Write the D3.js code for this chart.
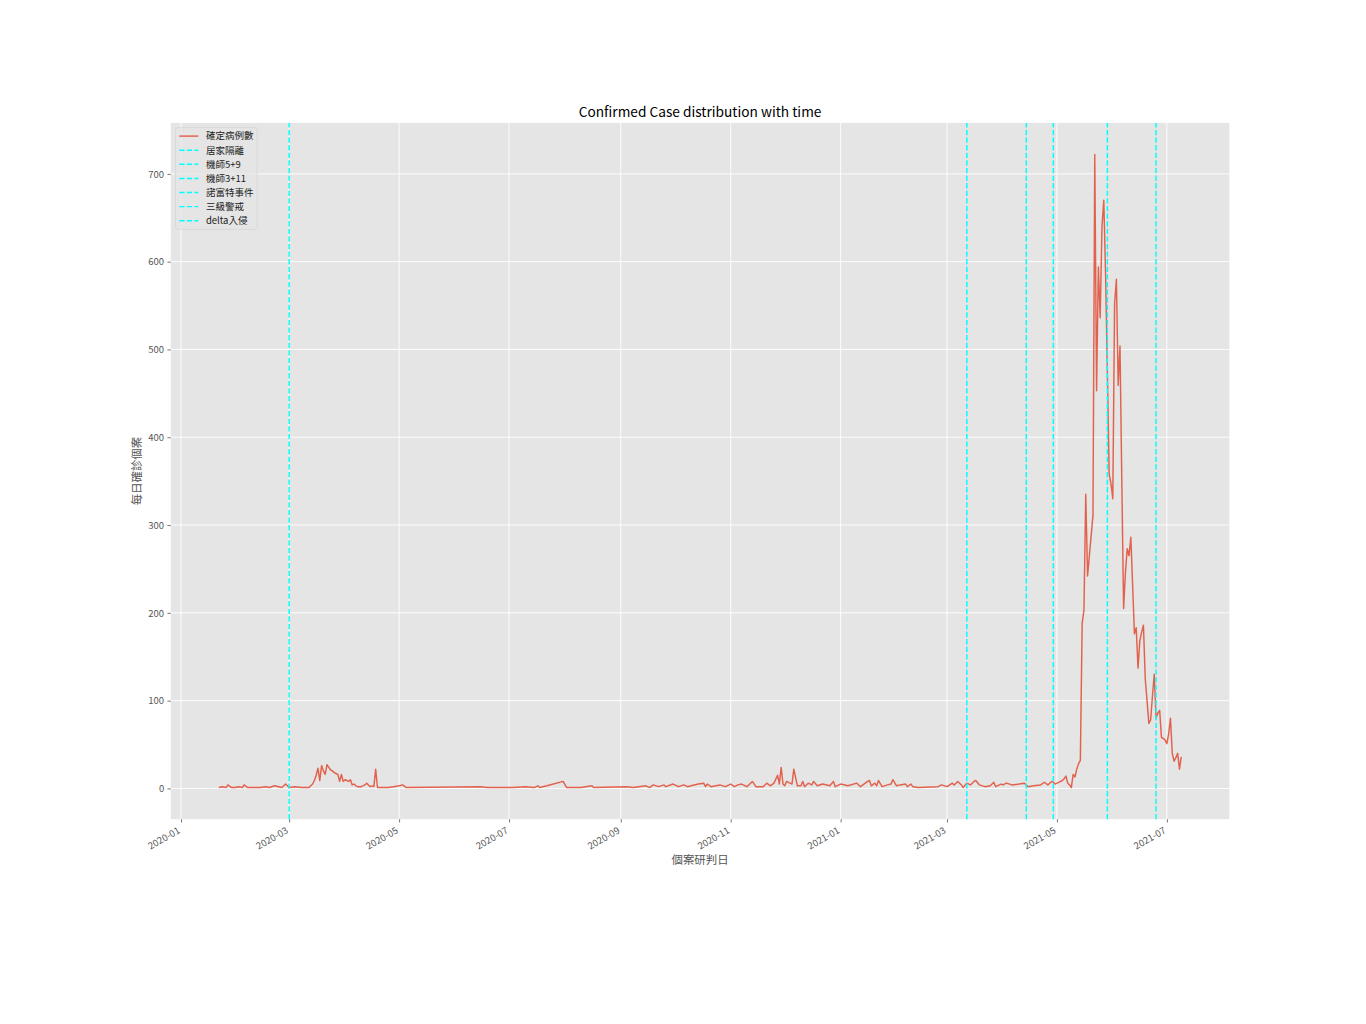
<!DOCTYPE html>
<html><head><meta charset="utf-8">
<script src="https://cdn.jsdelivr.net/npm/d3@7"></script>
<style>
body{margin:0;background:#fff}
svg{display:block}
text{font-family:"Noto Sans CJK TC","Noto Sans CJK SC","Noto Sans",sans-serif}
</style>
</head><body>
<svg id="c" width="1366" height="1024"></svg>
<script>
// ---- data ----
const dates = [
"2020-01-22","2020-01-24","2020-01-26","2020-01-27","2020-01-29","2020-01-31","2020-02-02","2020-02-04","2020-02-05","2020-02-07",
"2020-02-10","2020-02-14","2020-02-17","2020-02-19","2020-02-22","2020-02-26","2020-02-28","2020-03-01","2020-03-04","2020-03-08",
"2020-03-12","2020-03-13","2020-03-14","2020-03-15","2020-03-16","2020-03-17","2020-03-18","2020-03-19","2020-03-20","2020-03-21",
"2020-03-22","2020-03-23","2020-03-24","2020-03-25","2020-03-26","2020-03-27","2020-03-28","2020-03-29","2020-03-30","2020-03-31",
"2020-04-01","2020-04-02","2020-04-03","2020-04-04","2020-04-05","2020-04-06","2020-04-07","2020-04-08","2020-04-10","2020-04-12",
"2020-04-13","2020-04-15","2020-04-16","2020-04-17","2020-04-18","2020-04-19","2020-04-22","2020-04-25","2020-04-28","2020-05-01",
"2020-05-03","2020-05-05","2020-06-15","2020-06-19","2020-07-03","2020-07-10","2020-07-15","2020-07-17","2020-07-18","2020-07-22",
"2020-07-31","2020-08-02","2020-08-10","2020-08-16","2020-08-17","2020-09-04","2020-09-08","2020-09-15","2020-09-17","2020-09-19",
"2020-09-22","2020-09-25","2020-09-26","2020-09-30","2020-10-03","2020-10-06","2020-10-08","2020-10-10","2020-10-14","2020-10-17",
"2020-10-18","2020-10-19","2020-10-21","2020-10-26","2020-10-29","2020-11-01","2020-11-03","2020-11-05","2020-11-07","2020-11-10",
"2020-11-13","2020-11-15","2020-11-19","2020-11-21","2020-11-23","2020-11-25","2020-11-27","2020-11-28","2020-11-29","2020-11-30",
"2020-12-01","2020-12-02","2020-12-05","2020-12-06","2020-12-08","2020-12-10","2020-12-11","2020-12-12","2020-12-14","2020-12-16",
"2020-12-17","2020-12-19","2020-12-22","2020-12-26","2020-12-28","2020-12-29","2021-01-01","2021-01-05","2021-01-10","2021-01-12",
"2021-01-16","2021-01-17","2021-01-18","2021-01-20","2021-01-21","2021-01-22","2021-01-24","2021-01-27","2021-01-29","2021-01-30",
"2021-02-01","2021-02-03","2021-02-06","2021-02-07","2021-02-09","2021-02-10","2021-02-13","2021-02-24","2021-02-26","2021-03-01",
"2021-03-04","2021-03-05","2021-03-07","2021-03-09","2021-03-10","2021-03-12","2021-03-14","2021-03-16","2021-03-17","2021-03-19",
"2021-03-22","2021-03-25","2021-03-27","2021-03-28","2021-03-31","2021-04-01","2021-04-03","2021-04-06","2021-04-10","2021-04-13",
"2021-04-15","2021-04-18","2021-04-22","2021-04-24","2021-04-26","2021-04-28","2021-04-29","2021-04-30","2021-05-01","2021-05-02",
"2021-05-04","2021-05-05","2021-05-06","2021-05-07","2021-05-08","2021-05-09","2021-05-10","2021-05-11","2021-05-12","2021-05-13",
"2021-05-14","2021-05-15","2021-05-16","2021-05-17","2021-05-18","2021-05-19","2021-05-20","2021-05-21","2021-05-22","2021-05-23",
"2021-05-24","2021-05-25","2021-05-26","2021-05-27","2021-05-28","2021-05-29","2021-05-30","2021-05-31","2021-06-01","2021-06-02",
"2021-06-03","2021-06-04","2021-06-05","2021-06-06","2021-06-07","2021-06-08","2021-06-09","2021-06-10","2021-06-11","2021-06-12",
"2021-06-13","2021-06-14","2021-06-15","2021-06-16","2021-06-17","2021-06-18","2021-06-19","2021-06-20","2021-06-21","2021-06-22",
"2021-06-23","2021-06-24","2021-06-25","2021-06-26","2021-06-27","2021-06-28","2021-06-29","2021-06-30","2021-07-01","2021-07-02",
"2021-07-03","2021-07-04","2021-07-05","2021-07-06","2021-07-07","2021-07-08","2021-07-09"
];
const cases = [
1,2,1,4,1,1,2,1,4,1,
1,1,2,1,3,1,5,1,2,1,
1,3,5,9,15,23,9,26,20,16,
27,24,21,20,18,17,16,8,16,8,
10,9,8,10,4,5,3,2,2,4,
6,2,3,2,22,1,1,1,2,3,
4,1,2,1,1,2,1,3,1,3,
8,1,1,3,1,2,1,3,1,4,
2,4,2,5,2,4,2,3,5,6,
2,5,2,4,2,5,2,4,5,2,
8,2,2,6,3,6,15,5,24,5,
3,8,5,22,3,3,8,2,6,4,
8,3,5,3,8,2,5,3,6,2,
8,9,3,6,3,9,2,4,5,10,
3,4,5,2,5,2,1,2,4,2,
6,4,8,4,1,6,4,8,9,4,
2,3,7,2,5,4,6,4,5,6,
2,3,4,7,4,8,7,5,6,7,
9,11,14,6,4,1,16,13,22,28,
32,188,203,335,242,265,288,311,722,453,
594,536,640,670,586,472,358,347,330,552,
580,459,504,350,205,245,273,265,286,232,
176,183,137,168,178,186,125,100,74,78,
105,130,80,86,89,58,57,55,51,62,
80,40,31,35,40,22,36
];
const seriesName = "確定病例數";
const eventNames = ["居家隔離","機師5+9","機師3+11","諾富特事件","三級警戒","delta入侵"];
const eventDates = ["2020-03-01","2021-03-12","2021-04-14","2021-04-29","2021-05-29","2021-06-25"];
const yTicks = [0,100,200,300,400,500,600,700];
const xTickLabels = ["2020-01","2020-03","2020-05","2020-07","2020-09","2020-11","2021-01","2021-03","2021-05","2021-07"];
const titleText = "Confirmed Case distribution with time";
const xLabel = "個案研判日";
const yLabel = "每日確診個案";

// ---- layout ----
const M = {left:170.75, right:1229.4, top:122.9, bottom:819.2};
const svg = d3.select("#c");
const parseDay = d3.utcParse("%Y-%m-%d");
const parseMonth = d3.utcParse("%Y-%m");
const data = dates.map((d,i)=>({date:parseDay(d), value:cases[i]}));

const dExt = d3.extent(data, d=>d.date);
const dSpan = dExt[1]-dExt[0];
const x = d3.scaleUtc()
  .domain([new Date(+dExt[0]-0.05*dSpan), new Date(+dExt[1]+0.05*dSpan)])
  .range([M.left, M.right]);
const vExt = d3.extent(cases);
const vSpan = vExt[1]-vExt[0];
const y = d3.scaleLinear()
  .domain([vExt[0]-0.05*vSpan, vExt[1]+0.05*vSpan])
  .range([M.bottom, M.top]);

const xTicks = xTickLabels.map(parseMonth);

// background
svg.append("rect").attr("x",M.left).attr("y",M.top)
  .attr("width",M.right-M.left).attr("height",M.bottom-M.top).attr("fill","#E5E5E5");

// grid
const grid = svg.append("g");
grid.selectAll("line.gx").data(xTicks).join("line")
  .attr("x1",d=>x(d)).attr("x2",d=>x(d)).attr("y1",M.top).attr("y2",M.bottom)
  .attr("stroke","#fff").attr("stroke-width",0.9);
grid.selectAll("line.gy").data(yTicks).join("line")
  .attr("x1",M.left).attr("x2",M.right).attr("y1",d=>y(d)).attr("y2",d=>y(d))
  .attr("stroke","#fff").attr("stroke-width",0.9);

// line
const line = d3.line().x(d=>x(d.date)).y(d=>y(d.value));
svg.append("path").datum(data).attr("d",line)
  .attr("fill","none").attr("stroke","#E24A33").attr("stroke-width",1.45)
  .attr("stroke-opacity",0.85).attr("stroke-linejoin","round");

// event lines
const evG = svg.append("g");
evG.selectAll("line").data(eventDates.map(parseDay)).join("line")
  .attr("x1",d=>x(d)).attr("x2",d=>x(d)).attr("y1",M.bottom).attr("y2",M.top)
  .attr("stroke","#00FFFF").attr("stroke-width",1.45).attr("stroke-dasharray","5.3,2.3");

// axes
const tickColor = "#555555";
const gx = svg.append("g").attr("transform",`translate(0,${M.bottom})`)
  .call(d3.axisBottom(x).tickValues(xTicks).tickFormat(d3.utcFormat("%Y-%m")).tickSize(3.3).tickPadding(3.3));
gx.select(".domain").remove();
gx.selectAll(".tick line").attr("stroke",tickColor).attr("stroke-width",0.8);
gx.selectAll(".tick text")
  .attr("fill",tickColor).attr("font-size","9.5px")
  .attr("text-anchor","end").attr("x",0).attr("y",0).attr("dy","0.8em")
  .attr("transform","translate(-4.6,6.6) rotate(-30)");

const gy = svg.append("g").attr("transform",`translate(${M.left},0)`)
  .call(d3.axisLeft(y).tickValues(yTicks).tickSize(3.3).tickPadding(3.3));
gy.select(".domain").remove();
gy.selectAll(".tick line").attr("stroke",tickColor).attr("stroke-width",0.8);
gy.selectAll(".tick text").attr("fill",tickColor).attr("font-size","9.5px").attr("dy","0.34em");

// title and labels
svg.append("text").attr("x",(M.left+M.right)/2).attr("y",117.2)
  .attr("text-anchor","middle").attr("font-size","13.7px").attr("fill","#000").text(titleText);
svg.append("text").attr("x",(M.left+M.right)/2).attr("y",863.5)
  .attr("text-anchor","middle").attr("font-size","11.4px").attr("fill",tickColor).text(xLabel);
svg.append("text").attr("transform",`translate(140.5,${(M.top+M.bottom)/2}) rotate(-90)`)
  .attr("text-anchor","middle").attr("font-size","11.4px").attr("fill",tickColor).text(yLabel);

// legend
const legItems = [{name:seriesName, color:"#E24A33", dash:null, op:0.85}]
  .concat(eventNames.map(n=>({name:n, color:"#00FFFF", dash:"5.3,2.3", op:1})));
const lg = svg.append("g");
const lx = 175.5, ly = 127.6, lw = 81.7, lh = 101.8, rowH = 14.1;
lg.append("rect").attr("x",lx).attr("y",ly).attr("width",lw).attr("height",lh)
  .attr("rx",2.5).attr("fill","#E5E5E5").attr("fill-opacity",0.8)
  .attr("stroke","#CCCCCC").attr("stroke-opacity",0.8).attr("stroke-width",0.6);
const rows = lg.selectAll("g.row").data(legItems).join("g")
  .attr("transform",(d,i)=>`translate(0,${ly+3.8+4.7+i*rowH})`);
rows.append("line").attr("x1",lx+3.8).attr("x2",lx+3.8+19).attr("y1",0).attr("y2",0)
  .attr("stroke",d=>d.color).attr("stroke-width",1.45).attr("stroke-opacity",d=>d.op)
  .attr("stroke-dasharray",d=>d.dash);
rows.append("text").attr("x",lx+3.8+19+7.6).attr("y",0).attr("dy","0.35em")
  .attr("font-size","9.5px").attr("fill","#222").text(d=>d.name);
</script>
</body></html>
